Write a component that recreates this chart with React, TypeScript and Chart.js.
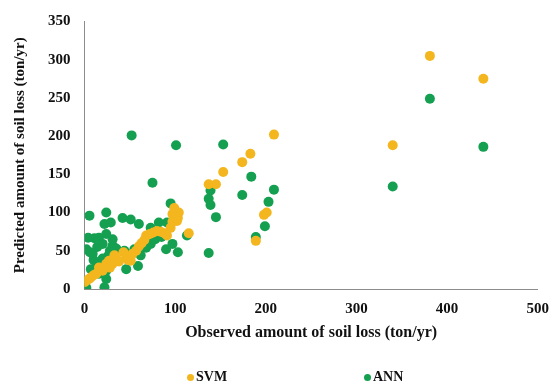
import React, { useEffect, useRef } from "react";
import { Chart, registerables } from "chart.js";

Chart.register(...registerables);

const xTicks = [0, 100, 200, 300, 400, 500];
const yTicks = [0, 50, 100, 150, 200, 250, 300, 350];

const svmObserved = [0, 2, 5, 7, 10, 13, 16, 20, 24, 28, 31, 33, 35, 38, 46, 48, 51, 53, 57, 60, 63, 66, 68, 72, 76, 80, 84, 88, 91, 95, 97, 99, 100, 103, 102, 104, 97, 115, 137, 145, 153, 174, 183, 189, 198, 201, 209, 340, 381, 440, 27, 43];
const svmPredicted = [9, 11, 13, 15, 18, 20, 28, 24, 33, 28, 33, 44, 40, 36, 41, 38, 37, 46, 50, 56, 60, 64, 70, 72, 74, 76, 75, 73, 70, 80, 98, 106, 102, 93, 89, 100, 88, 73, 137, 137, 153, 166, 177, 63, 97, 100, 202, 188, 305, 275, 37, 48];

const annObserved = [2, 22, 24, 4, 11, 16, 2, 5.5, 24, 22, 29, 42, 51, 60, 73, 82, 91, 95, 20, 31, 9, 13, 7, 18, 24, 26, 24, 31, 44, 55, 46, 59, 68, 73, 90, 97, 103, 75, 52, 101, 153, 113, 137, 137, 139, 139, 145, 174, 184, 189, 199, 203, 209, 340, 381, 440, 14, 20, 28, 10, 6, 35, 62, 78, 85, 16];
const annPredicted = [1.5, 2.3, 13, 67, 66.5, 67, 52, 96, 100, 85, 87, 93, 91, 85, 80, 87, 87, 112, 59, 57, 46, 35, 26, 31, 24, 43, 72, 65, 50, 52, 26, 30, 54, 59, 52, 59, 48, 139, 201, 188, 189, 70, 47, 118, 110, 129, 94, 123, 147, 68, 82, 114, 130, 134, 249, 186, 55, 40, 50, 38, 48, 53, 44, 65, 68, 20];

const SVM_COLOR = "#F4B61E";
const ANN_COLOR = "#14A050";

function toPoints(xs: number[], ys: number[]) {
  return xs.map((x, i) => ({ x, y: ys[i] }));
}

export default function App() {
  const ref = useRef<HTMLCanvasElement | null>(null);

  useEffect(() => {
    if (!ref.current) return;
    const font = "'Liberation Serif', 'Times New Roman', serif";
    const chart = new Chart(ref.current, {
      type: "scatter",
      data: {
        datasets: [
          {
            label: "SVM",
            data: toPoints(svmObserved, svmPredicted),
            backgroundColor: SVM_COLOR,
            borderColor: SVM_COLOR,
            borderWidth: 0,
            pointRadius: 5,
          },
          {
            label: "ANN",
            data: toPoints(annObserved, annPredicted),
            backgroundColor: ANN_COLOR,
            borderColor: ANN_COLOR,
            borderWidth: 0,
            pointRadius: 5,
          },
        ],
      },
      options: {
        responsive: false,
        animation: false,
        layout: { padding: { left: 11, right: 0, top: 7, bottom: 49 } },
        plugins: {
          legend: { display: false },
          tooltip: { enabled: false },
        },
        scales: {
          x: {
            type: "linear",
            min: xTicks[0],
            max: xTicks[xTicks.length - 1],
            afterBuildTicks: (axis: any) => {
              axis.ticks = xTicks.map((v) => ({ value: v }));
            },
            grid: { display: false, drawTicks: false },
            border: { display: true, color: "#8c8c8c", width: 1 },
            ticks: {
              padding: 13,
              color: "#111",
              font: { family: font, size: 15, weight: "bold", lineHeight: 1.0 },
              maxRotation: 0,
            },
            title: {
              display: true,
              text: "Observed amount of soil loss (ton/yr)",
              color: "#111",
              font: { family: font, size: 16, weight: "bold", lineHeight: 1.0 },
              padding: { top: -5, bottom: 0 },
            },
          },
          y: {
            type: "linear",
            min: yTicks[0],
            max: yTicks[yTicks.length - 1],
            afterBuildTicks: (axis: any) => {
              axis.ticks = yTicks.map((v) => ({ value: v }));
            },
            grid: { display: false, drawTicks: false },
            border: { display: true, color: "#8c8c8c", width: 1 },
            ticks: {
              padding: 14,
              color: "#111",
              font: { family: font, size: 15, weight: "bold", lineHeight: 1.0 },
            },
            title: {
              display: true,
              text: "Predicted amount of soil loss (ton/yr)",
              color: "#111",
              font: { family: font, size: 15, weight: "bold" },
              padding: { top: 0, bottom: 5 },
            },
          },
        },
      },
    });
    return () => chart.destroy();
  }, []);

  const legendItem = (color: string, label: string, left: number) => (
    <div
      style={{
        position: "absolute",
        left,
        top: 369,
        display: "flex",
        alignItems: "center",
        fontFamily: "'Liberation Serif', 'Times New Roman', serif",
        fontWeight: "bold",
        fontSize: 14,
        color: "#111",
        lineHeight: "16px",
      }}
    >
      <span
        style={{
          display: "inline-block",
          width: 7,
          height: 7,
          borderRadius: "50%",
          background: color,
          marginRight: 2,
        }}
      />
      {label}
    </div>
  );

  return (
    <div
      style={{
        position: "fixed",
        left: 0,
        top: 0,
        width: 551,
        height: 390,
        overflow: "hidden",
        background: "#fff",
      }}
    >
      <canvas ref={ref} width={562} height={390} style={{ display: "block" }} />
      {legendItem(SVM_COLOR, "SVM", 187)}
      {legendItem(ANN_COLOR, "ANN", 364)}
    </div>
  );
}
